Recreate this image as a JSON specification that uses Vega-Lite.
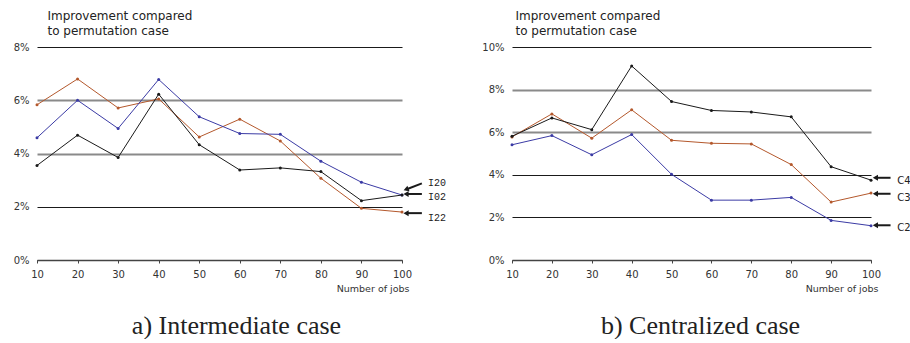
{
  "$schema": "https://vega.github.io/schema/vega-lite/v6.json",
  "padding": {"left": 13, "top": 9, "right": 0, "bottom": 0},
  "background": "white",
  "config": {"view": {"stroke": null}, "font": "DejaVu Sans"},
  "bounds": "flush",
  "spacing": 110,
  "datasets": {
    "series": [
      {"panel": "a", "series": "I22", "jobs": 10, "value": 5.83},
      {"panel": "a", "series": "I22", "jobs": 20, "value": 6.80},
      {"panel": "a", "series": "I22", "jobs": 30, "value": 5.71},
      {"panel": "a", "series": "I22", "jobs": 40, "value": 6.05},
      {"panel": "a", "series": "I22", "jobs": 50, "value": 4.62},
      {"panel": "a", "series": "I22", "jobs": 60, "value": 5.29},
      {"panel": "a", "series": "I22", "jobs": 70, "value": 4.47},
      {"panel": "a", "series": "I22", "jobs": 80, "value": 3.07},
      {"panel": "a", "series": "I22", "jobs": 90, "value": 1.94},
      {"panel": "a", "series": "I22", "jobs": 100, "value": 1.80},
      {"panel": "a", "series": "I20", "jobs": 10, "value": 4.59},
      {"panel": "a", "series": "I20", "jobs": 20, "value": 6.00},
      {"panel": "a", "series": "I20", "jobs": 30, "value": 4.94},
      {"panel": "a", "series": "I20", "jobs": 40, "value": 6.78},
      {"panel": "a", "series": "I20", "jobs": 50, "value": 5.38},
      {"panel": "a", "series": "I20", "jobs": 60, "value": 4.75},
      {"panel": "a", "series": "I20", "jobs": 70, "value": 4.72},
      {"panel": "a", "series": "I20", "jobs": 80, "value": 3.71},
      {"panel": "a", "series": "I20", "jobs": 90, "value": 2.92},
      {"panel": "a", "series": "I20", "jobs": 100, "value": 2.44},
      {"panel": "a", "series": "I02", "jobs": 10, "value": 3.55},
      {"panel": "a", "series": "I02", "jobs": 20, "value": 4.69},
      {"panel": "a", "series": "I02", "jobs": 30, "value": 3.85},
      {"panel": "a", "series": "I02", "jobs": 40, "value": 6.23},
      {"panel": "a", "series": "I02", "jobs": 50, "value": 4.33},
      {"panel": "a", "series": "I02", "jobs": 60, "value": 3.38},
      {"panel": "a", "series": "I02", "jobs": 70, "value": 3.46},
      {"panel": "a", "series": "I02", "jobs": 80, "value": 3.32},
      {"panel": "a", "series": "I02", "jobs": 90, "value": 2.23},
      {"panel": "a", "series": "I02", "jobs": 100, "value": 2.44},
      {"panel": "b", "series": "C2", "jobs": 10, "value": 5.41},
      {"panel": "b", "series": "C2", "jobs": 20, "value": 5.84},
      {"panel": "b", "series": "C2", "jobs": 30, "value": 4.94},
      {"panel": "b", "series": "C2", "jobs": 40, "value": 5.89},
      {"panel": "b", "series": "C2", "jobs": 50, "value": 4.02},
      {"panel": "b", "series": "C2", "jobs": 60, "value": 2.81},
      {"panel": "b", "series": "C2", "jobs": 70, "value": 2.81},
      {"panel": "b", "series": "C2", "jobs": 80, "value": 2.94},
      {"panel": "b", "series": "C2", "jobs": 90, "value": 1.86},
      {"panel": "b", "series": "C2", "jobs": 100, "value": 1.61},
      {"panel": "b", "series": "C3", "jobs": 10, "value": 5.78},
      {"panel": "b", "series": "C3", "jobs": 20, "value": 6.86},
      {"panel": "b", "series": "C3", "jobs": 30, "value": 5.72},
      {"panel": "b", "series": "C3", "jobs": 40, "value": 7.05},
      {"panel": "b", "series": "C3", "jobs": 50, "value": 5.62},
      {"panel": "b", "series": "C3", "jobs": 60, "value": 5.48},
      {"panel": "b", "series": "C3", "jobs": 70, "value": 5.45},
      {"panel": "b", "series": "C3", "jobs": 80, "value": 4.48},
      {"panel": "b", "series": "C3", "jobs": 90, "value": 2.72},
      {"panel": "b", "series": "C3", "jobs": 100, "value": 3.14},
      {"panel": "b", "series": "C4", "jobs": 10, "value": 5.81},
      {"panel": "b", "series": "C4", "jobs": 20, "value": 6.67},
      {"panel": "b", "series": "C4", "jobs": 30, "value": 6.12},
      {"panel": "b", "series": "C4", "jobs": 40, "value": 9.11},
      {"panel": "b", "series": "C4", "jobs": 50, "value": 7.44},
      {"panel": "b", "series": "C4", "jobs": 60, "value": 7.02},
      {"panel": "b", "series": "C4", "jobs": 70, "value": 6.95},
      {"panel": "b", "series": "C4", "jobs": 80, "value": 6.72},
      {"panel": "b", "series": "C4", "jobs": 90, "value": 4.38},
      {"panel": "b", "series": "C4", "jobs": 100, "value": 3.75}
    ],
    "arrows": [
      {"panel": "a", "label": "I20", "hx": 101.0, "hy": 2.65, "tx": 104.9, "ty": 2.88, "lx": 106.4, "ly": 2.88},
      {"panel": "a", "label": "I02", "hx": 101.0, "hy": 2.48, "tx": 104.9, "ty": 2.48, "lx": 106.4, "ly": 2.36},
      {"panel": "a", "label": "I22", "hx": 101.0, "hy": 1.76, "tx": 104.9, "ty": 1.76, "lx": 106.4, "ly": 1.59},
      {"panel": "b", "label": "C4", "hx": 101.1, "hy": 3.86, "tx": 104.9, "ty": 3.86, "lx": 106.6, "ly": 3.70},
      {"panel": "b", "label": "C3", "hx": 101.1, "hy": 3.11, "tx": 104.9, "ty": 3.11, "lx": 106.6, "ly": 2.92},
      {"panel": "b", "label": "C2", "hx": 101.1, "hy": 1.63, "tx": 104.9, "ty": 1.63, "lx": 106.6, "ly": 1.49}
    ]
  },
  "hconcat": [
    {
      "width": 365,
      "height": 213,
      "title": {"text": "a) Intermediate case", "orient": "bottom", "anchor": "middle", "font": "Liberation Serif", "fontSize": 26, "fontWeight": "normal", "color": "#222", "dx": 17, "offset": 20},
      "layer": [
        {
          "data": {"name": "series"},
          "transform": [{"filter": "datum.panel == 'a'"}],
          "mark": {"type": "line", "strokeWidth": 1, "point": {"filled": true, "size": 9}},
          "encoding": {
            "x": {"field": "jobs", "type": "quantitative", "scale": {"domain": [10, 100], "nice": false, "zero": false},
              "axis": {"values": [10, 20, 30, 40, 50, 60, 70, 80, 90, 100], "tickCount": 10, "labelOverlap": false, "labelFlush": false, "title": "Number of jobs", "grid": false, "tickSize": 3, "tickColor": "#444", "domainColor": "#444", "domainWidth": 1.3, "labelFontSize": 10, "labelPadding": 6, "labelColor": "#333", "titleFontSize": 9.5, "titleFontWeight": "normal", "titleColor": "#333", "titleAlign": "right", "titleAnchor": "end", "titleX": 372, "titleY": 31.5, "titleBaseline": "alphabetic"}},
            "y": {"field": "value", "type": "quantitative", "scale": {"domain": [0, 8], "nice": false},
              "axis": {"values": [0, 2, 4, 6, 8], "labelExpr": "datum.value + '%'", "grid": true,
                "gridColor": {"condition": {"test": "datum.value == 4 || datum.value == 6", "value": "#8a8a8a"}, "value": "#1a1a1a"},
                "gridWidth": {"condition": {"test": "datum.value == 4 || datum.value == 6", "value": 2}, "value": 1.2},
                "domain": false, "ticks": false, "labelPadding": 8, "labelFontSize": 10, "labelColor": "#333",
                "title": ["Improvement compared", "to permutation case"], "titleAngle": 0, "titleAlign": "left", "titleBaseline": "alphabetic", "titleX": 10, "titleY": -27.5, "titleFontSize": 12, "titleFontWeight": "normal", "titleColor": "#222", "titleLineHeight": 15}},
            "color": {"field": "series", "type": "nominal", "legend": null,
              "scale": {"domain": ["I20", "I02", "I22", "C2", "C3", "C4"], "range": ["#3b3ba5", "#1a1a1a", "#b4582c", "#3b3ba5", "#b4582c", "#1a1a1a"]}}
          }
        },
        {
          "data": {"name": "arrows"},
          "transform": [{"filter": "datum.panel == 'a'"}],
          "mark": {"type": "rule", "strokeWidth": 2, "color": "#1a1a1a", "clip": false},
          "encoding": {"x": {"field": "hx", "type": "quantitative"}, "x2": {"field": "tx"}, "y": {"field": "hy", "type": "quantitative"}, "y2": {"field": "ty"}}
        },
        {
          "data": {"name": "arrows"},
          "transform": [{"filter": "datum.panel == 'a'"}],
          "mark": {"type": "point", "shape": "triangle-left", "filled": true, "size": 36, "color": "#1a1a1a", "opacity": 1, "clip": false},
          "encoding": {"x": {"field": "hx", "type": "quantitative"}, "y": {"field": "hy", "type": "quantitative"},
            "angle": {"condition": {"test": "datum.label == 'I20'", "value": -21}, "value": 0}}
        },
        {
          "data": {"name": "arrows"},
          "transform": [{"filter": "datum.panel == 'a'"}],
          "mark": {"type": "text", "align": "left", "baseline": "middle", "font": "Liberation Mono", "fontSize": 10, "color": "#222", "clip": false},
          "encoding": {"x": {"field": "lx", "type": "quantitative"}, "y": {"field": "ly", "type": "quantitative"}, "text": {"field": "label"}}
        }
      ]
    },
    {
      "width": 359,
      "height": 213,
      "title": {"text": "b) Centralized case", "orient": "bottom", "anchor": "middle", "font": "Liberation Serif", "fontSize": 26, "fontWeight": "normal", "color": "#222", "dx": 9, "offset": 20},
      "layer": [
        {
          "data": {"name": "series"},
          "transform": [{"filter": "datum.panel == 'b'"}],
          "mark": {"type": "line", "strokeWidth": 1, "point": {"filled": true, "size": 9}},
          "encoding": {
            "x": {"field": "jobs", "type": "quantitative", "scale": {"domain": [10, 100], "nice": false, "zero": false},
              "axis": {"values": [10, 20, 30, 40, 50, 60, 70, 80, 90, 100], "tickCount": 10, "labelOverlap": false, "labelFlush": false, "title": "Number of jobs", "grid": false, "tickSize": 3, "tickColor": "#444", "domainColor": "#444", "domainWidth": 1.3, "labelFontSize": 10, "labelPadding": 6, "labelColor": "#333", "titleFontSize": 9.5, "titleFontWeight": "normal", "titleColor": "#333", "titleAlign": "right", "titleAnchor": "end", "titleX": 366, "titleY": 31.5, "titleBaseline": "alphabetic"}},
            "y": {"field": "value", "type": "quantitative", "scale": {"domain": [0, 10], "nice": false},
              "axis": {"values": [0, 2, 4, 6, 8, 10], "labelExpr": "datum.value + '%'", "grid": true,
                "gridColor": {"condition": {"test": "datum.value == 6 || datum.value == 8", "value": "#8a8a8a"}, "value": "#1a1a1a"},
                "gridWidth": {"condition": {"test": "datum.value == 6 || datum.value == 8", "value": 2}, "value": 1.2},
                "domain": false, "ticks": false, "labelPadding": 8, "labelFontSize": 10, "labelColor": "#333",
                "title": ["Improvement compared", "to permutation case"], "titleAngle": 0, "titleAlign": "left", "titleBaseline": "alphabetic", "titleX": 3, "titleY": -27.5, "titleFontSize": 12, "titleFontWeight": "normal", "titleColor": "#222", "titleLineHeight": 15}},
            "color": {"field": "series", "type": "nominal", "legend": null,
              "scale": {"domain": ["I20", "I02", "I22", "C2", "C3", "C4"], "range": ["#3b3ba5", "#1a1a1a", "#b4582c", "#3b3ba5", "#b4582c", "#1a1a1a"]}}
          }
        },
        {
          "data": {"name": "arrows"},
          "transform": [{"filter": "datum.panel == 'b'"}],
          "mark": {"type": "rule", "strokeWidth": 2, "color": "#1a1a1a", "clip": false},
          "encoding": {"x": {"field": "hx", "type": "quantitative"}, "x2": {"field": "tx"}, "y": {"field": "hy", "type": "quantitative"}, "y2": {"field": "ty"}}
        },
        {
          "data": {"name": "arrows"},
          "transform": [{"filter": "datum.panel == 'b'"}],
          "mark": {"type": "point", "shape": "triangle-left", "filled": true, "size": 36, "color": "#1a1a1a", "opacity": 1, "clip": false},
          "encoding": {"x": {"field": "hx", "type": "quantitative"}, "y": {"field": "hy", "type": "quantitative"}}
        },
        {
          "data": {"name": "arrows"},
          "transform": [{"filter": "datum.panel == 'b'"}],
          "mark": {"type": "text", "align": "left", "baseline": "middle", "font": "DejaVu Sans", "fontSize": 10, "color": "#222", "clip": false},
          "encoding": {"x": {"field": "lx", "type": "quantitative"}, "y": {"field": "ly", "type": "quantitative"}, "text": {"field": "label"}}
        }
      ]
    }
  ]
}
